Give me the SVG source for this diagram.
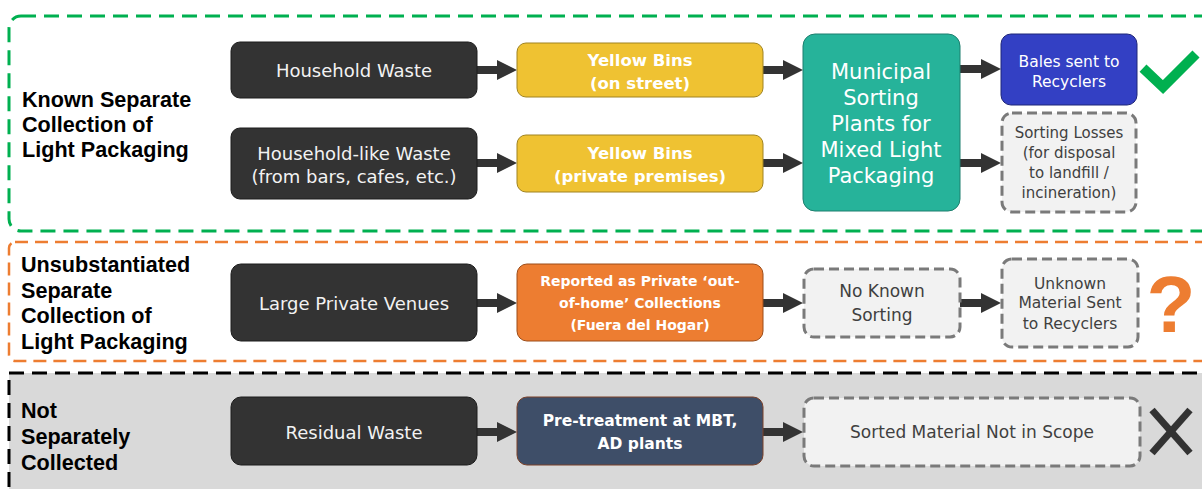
<svg xmlns="http://www.w3.org/2000/svg" width="1202" height="489" viewBox="0 0 1202 489">
<defs>
<style>
.grp{font-family:"Liberation Sans",Arial,sans-serif;font-weight:bold;font-size:21.6px;fill:#000}
.t{font-family:"DejaVu Sans","Liberation Sans",sans-serif;text-anchor:middle}
.w{fill:#f2f2f2;font-size:18px}
.b{fill:#ffffff;font-weight:bold}
.g{fill:#404040}
.dark{fill:#333333;stroke:#1c1c1c;stroke-width:1}
.dash{fill:#f2f2f2;stroke:#7a7a7a;stroke-width:3;stroke-dasharray:10 5}
.arr{stroke:#333333;stroke-width:8;marker-end:url(#ah)}
</style>
<marker id="ah" viewBox="0 0 20 20" markerWidth="20" markerHeight="20" markerUnits="userSpaceOnUse" refX="2" refY="10" orient="auto">
<path d="M0,0 L20,10 L0,20 z" fill="#333333"/>
</marker>
</defs>
<rect width="1202" height="489" fill="#ffffff"/>

<g id="band-known">
<rect x="9" y="16" width="1215" height="215" rx="12" fill="none" stroke="#00b050" stroke-width="3" stroke-dasharray="15 8"/>
<text class="grp" x="22" y="107">Known Separate</text>
<text class="grp" x="22" y="132">Collection of</text>
<text class="grp" x="22" y="157">Light Packaging</text>
</g>
<g id="band-unsub">
<rect x="9" y="242" width="1215" height="119" rx="6" fill="none" stroke="#ed7d31" stroke-width="2.5" stroke-dasharray="13 7"/>
<text class="grp" x="21" y="272">Unsubstantiated</text>
<text class="grp" x="21" y="298">Separate</text>
<text class="grp" x="21" y="323">Collection of</text>
<text class="grp" x="21" y="349">Light Packaging</text>
</g>
<g id="band-not">
<rect x="9" y="373" width="1215" height="130" fill="#d9d9d9" stroke="#000000" stroke-width="3" stroke-dasharray="15 8"/>
<text class="grp" x="21" y="418">Not</text>
<text class="grp" x="21" y="444">Separately</text>
<text class="grp" x="21" y="470">Collected</text>
</g>

<g id="connectors">
<line class="arr" x1="477" y1="70" x2="499" y2="70"/>
<line class="arr" x1="763" y1="70" x2="785" y2="70"/>
<line class="arr" x1="477" y1="163" x2="499" y2="163"/>
<line class="arr" x1="763" y1="163" x2="785" y2="163"/>
<line class="arr" x1="960" y1="69" x2="983" y2="69"/>
<line class="arr" x1="960" y1="163" x2="983" y2="163"/>
<line class="arr" x1="477" y1="303" x2="499" y2="303"/>
<line class="arr" x1="763" y1="303" x2="785" y2="303"/>
<line class="arr" x1="960" y1="303" x2="983" y2="303"/>
<line class="arr" x1="477" y1="432" x2="499" y2="432"/>
<line class="arr" x1="763" y1="432" x2="785" y2="432"/>
</g>

<g id="household-waste">
<rect class="dark" x="231" y="42" width="246" height="56" rx="9"/>
<text class="t w" x="354" y="77">Household Waste</text>
</g>
<g id="household-like-waste">
<rect class="dark" x="231" y="128" width="246" height="71" rx="9"/>
<text class="t w" x="354" y="159.5">Household-like Waste</text>
<text class="t w" x="354" y="183">(from bars, cafes, etc.)</text>
</g>
<g id="yellow-street">
<rect x="517" y="43" width="246" height="54" rx="9" fill="#efc232" stroke="#a08320" stroke-width="1"/>
<text class="t b" x="640" y="66" font-size="16.5">Yellow Bins</text>
<text class="t b" x="640" y="89" font-size="16.5">(on street)</text>
</g>
<g id="yellow-private">
<rect x="517" y="135" width="246" height="57" rx="9" fill="#efc232" stroke="#a08320" stroke-width="1"/>
<text class="t b" x="640" y="159" font-size="16.5">Yellow Bins</text>
<text class="t b" x="640" y="182" font-size="16.5">(private premises)</text>
</g>
<g id="municipal-sorting">
<rect x="803" y="34" width="157" height="177" rx="12" fill="#26b39a" stroke="#1d7f6e" stroke-width="1"/>
<text class="t" fill="#ffffff" font-size="21" x="881" y="79">Municipal</text>
<text class="t" fill="#ffffff" font-size="21" x="881" y="105">Sorting</text>
<text class="t" fill="#ffffff" font-size="21" x="881" y="131">Plants for</text>
<text class="t" fill="#ffffff" font-size="21" x="881" y="157">Mixed Light</text>
<text class="t" fill="#ffffff" font-size="21" x="881" y="183">Packaging</text>
</g>
<g id="bales">
<rect x="1001" y="34" width="136" height="71" rx="10" fill="#3340c4" stroke="#1f2678" stroke-width="1"/>
<text class="t" fill="#ffffff" font-size="15.5" x="1069" y="66.5">Bales sent to</text>
<text class="t" fill="#ffffff" font-size="15.5" x="1069" y="86.5">Recyclers</text>
</g>
<g id="sorting-losses">
<rect class="dash" x="1002" y="113" width="134" height="99" rx="10"/>
<text class="t g" font-size="15" x="1069" y="138">Sorting Losses</text>
<text class="t g" font-size="15" x="1069" y="158">(for disposal</text>
<text class="t g" font-size="15" x="1069" y="178">to landfill /</text>
<text class="t g" font-size="15" x="1069" y="198">incineration)</text>
</g>
<g id="tick">
<polyline points="1143,68 1163,87 1196,54" fill="none" stroke="#00b050" stroke-width="10"/>
</g>

<g id="large-private-venues">
<rect class="dark" x="231" y="264" width="246" height="77" rx="10"/>
<text class="t w" x="354" y="309.5">Large Private Venues</text>
</g>
<g id="reported-private">
<rect x="517" y="264" width="246" height="77" rx="10" fill="#ed7d31" stroke="#9c4c18" stroke-width="1"/>
<text class="t b" font-size="14" x="640" y="286">Reported as Private ‘out-</text>
<text class="t b" font-size="14" x="640" y="308">of-home’ Collections</text>
<text class="t b" font-size="14" x="640" y="330">(Fuera del Hogar)</text>
</g>
<g id="no-known-sorting">
<rect class="dash" x="804" y="269" width="156" height="68" rx="10"/>
<text class="t g" font-size="17" x="882" y="297">No Known</text>
<text class="t g" font-size="17" x="882" y="321">Sorting</text>
</g>
<g id="unknown-material">
<rect class="dash" x="1002" y="259" width="136" height="88" rx="10"/>
<text class="t g" font-size="15.5" x="1070" y="288.5">Unknown</text>
<text class="t g" font-size="15.5" x="1070" y="308">Material Sent</text>
<text class="t g" font-size="15.5" x="1070" y="329">to Recyclers</text>
</g>
<g id="question">
<text x="1171" y="332" font-family="Liberation Sans, Arial, sans-serif" font-weight="bold" font-size="80" fill="#ed7d31" text-anchor="middle">?</text>
</g>

<g id="residual-waste">
<rect class="dark" x="231" y="397" width="246" height="68" rx="10"/>
<text class="t w" x="354" y="438.5">Residual Waste</text>
</g>
<g id="pretreatment">
<rect x="517" y="397" width="246" height="68" rx="10" fill="#3e4e68" stroke="#7a4028" stroke-width="1"/>
<text class="t b" font-size="15.5" x="640" y="426">Pre-treatment at MBT,</text>
<text class="t b" font-size="15.5" x="640" y="449">AD plants</text>
</g>
<g id="sorted-not-in-scope">
<rect class="dash" x="804" y="398" width="336" height="68" rx="10"/>
<text class="t g" font-size="17" x="972" y="438">Sorted Material Not in Scope</text>
</g>
<g id="cross">
<line x1="1152" y1="410" x2="1190" y2="453" stroke="#333333" stroke-width="7"/>
<line x1="1190" y1="410" x2="1152" y2="453" stroke="#333333" stroke-width="7"/>
</g>
</svg>
